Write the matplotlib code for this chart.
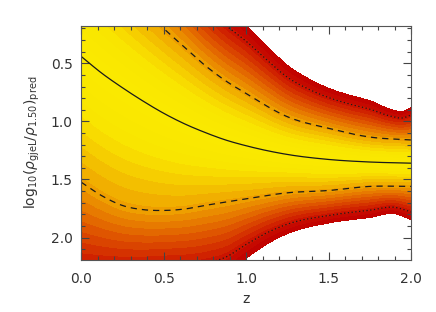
import numpy as np
import matplotlib
matplotlib.use('Agg')
import matplotlib.pyplot as plt
from matplotlib.colors import LinearSegmentedColormap, ListedColormap
from matplotlib.ticker import MultipleLocator

# curves (z, log10 value); points outside the axes are estimates
z_mean = [0.0, 0.125, 0.25, 0.375, 0.5, 0.625, 0.75, 0.875, 1.0, 1.25, 1.5, 1.75, 2.0]
y_mean = [0.44, 0.585, 0.71, 0.825, 0.93, 1.02, 1.095, 1.16, 1.21, 1.285, 1.328, 1.35, 1.36]

z_up1 = [0.0, 0.25, 0.5, 0.625, 0.75, 0.875, 1.0, 1.25, 1.5, 1.75, 2.0]
y_up1 = [-0.55, -0.15, 0.2, 0.36, 0.517, 0.65, 0.76, 0.96, 1.06, 1.135, 1.16]

z_lo1 = [0.0, 0.125, 0.25, 0.375, 0.5, 0.625, 0.75, 1.0, 1.25, 1.5, 1.75, 2.0]
y_lo1 = [1.523, 1.64, 1.724, 1.76, 1.767, 1.755, 1.724, 1.667, 1.615, 1.595, 1.56, 1.56]

z_up2 = [0.0, 0.25, 0.5, 0.75, 0.875, 1.0, 1.125, 1.25, 1.375, 1.5, 1.625, 1.75, 1.875, 1.95, 2.0]
y_up2 = [-1.5, -0.95, -0.45, 0.0, 0.17, 0.31, 0.47, 0.62, 0.72, 0.795, 0.85, 0.895, 0.955, 0.97, 0.945]

z_lo2 = [0.0, 0.25, 0.5, 0.75, 0.875, 1.0, 1.125, 1.25, 1.5, 1.75, 1.9, 2.0]
y_lo2 = [2.28, 2.27, 2.25, 2.22, 2.17, 2.06, 1.96, 1.885, 1.81, 1.765, 1.74, 1.78]


def smooth(xs, ys, xn):
    # cubic hermite through the read points
    xs = np.asarray(xs, float)
    ys = np.asarray(ys, float)
    d = np.gradient(ys, xs)
    i = np.clip(np.searchsorted(xs, xn) - 1, 0, len(xs) - 2)
    h = xs[i + 1] - xs[i]
    t = (xn - xs[i]) / h
    h00 = 2 * t**3 - 3 * t**2 + 1
    h10 = t**3 - 2 * t**2 + t
    h01 = -2 * t**3 + 3 * t**2
    h11 = t**3 - t**2
    return h00 * ys[i] + h10 * h * d[i] + h01 * ys[i + 1] + h11 * h * d[i + 1]


zz = np.linspace(0, 2, 500)
m = smooth(z_mean, y_mean, zz)
u1 = smooth(z_up1, y_up1, zz)
l1 = smooth(z_lo1, y_lo1, zz)
u2 = smooth(z_up2, y_up2, zz)
l2 = smooth(z_lo2, y_lo2, zz)

yy = np.linspace(0.1, 2.3, 700)
Z, Y = np.meshgrid(zz, yy)
M, U1, L1, U2, L2 = [np.broadcast_to(a, Z.shape) for a in (m, u1, l1, u2, l2)]

# distance from the mean in "sigma" units, piecewise between the curves
nsig = np.where(
    Y < M,
    np.where(Y >= U1, (M - Y) / (M - U1), 1 + (U1 - Y) / (U1 - U2)),
    np.where(Y <= L1, (Y - M) / (L1 - M), 1 + (Y - L1) / (L2 - L1)),
)

levels = np.linspace(0, 2.3, 20)
base = LinearSegmentedColormap.from_list('yr', [
    (0.0, (250/255, 234/255, 0)),
    (0.18, (249/255, 230/255, 0)),
    (0.27, (247/255, 212/255, 0)),
    (0.43, (239/255, 165/255, 0)),
    (0.62, (226/255, 98/255, 0)),
    (0.8, (210/255, 38/255, 0)),
    (0.9, (200/255, 12/255, 0)),
    (1.0, (192/255, 0, 0)),
])
mids = (levels[:-1] + levels[1:]) / 2 / levels[-1]
cmap = ListedColormap(base(mids))

fig = plt.figure(figsize=(4.36, 3.12), dpi=100)
ax = fig.add_axes([0.186, 0.168, 0.757, 0.749])
ax.contourf(Z, Y, nsig, levels=levels, cmap=cmap, antialiased=False)

ax.plot(zz, m, color='#1a1a1a', lw=0.9)
ax.plot(zz, u1, color='#1a1a1a', lw=0.9, ls=(0, (5, 4)))
ax.plot(zz, l1, color='#1a1a1a', lw=0.9, ls=(0, (5, 4)))
ax.plot(zz, u2, color='#1a1a1a', lw=0.9, ls=(0, (1, 2)))
ax.plot(zz, l2, color='#1a1a1a', lw=0.9, ls=(0, (1, 2)))

ax.set_xlim(0, 2.0)
ax.set_ylim(2.19, 0.178)
ax.xaxis.set_major_locator(MultipleLocator(0.5))
ax.xaxis.set_minor_locator(MultipleLocator(0.1))
ax.yaxis.set_major_locator(MultipleLocator(0.5))
ax.yaxis.set_minor_locator(MultipleLocator(0.1))
ax.tick_params(which='both', direction='in', top=True, right=True, color='#444', width=0.8)
ax.tick_params(which='major', length=6)
ax.tick_params(which='minor', length=3)
ax.tick_params(axis='x', pad=9, labelsize=10, labelcolor='#333')
ax.tick_params(axis='y', pad=6, labelsize=10, labelcolor='#333')
ax.xaxis.set_major_formatter(plt.FormatStrFormatter('%.1f'))
ax.yaxis.set_major_formatter(plt.FormatStrFormatter('%.1f'))
for s in ax.spines.values():
    s.set_color('#555')
    s.set_linewidth(0.8)

ax.set_xlabel('z', fontsize=10, color='#333', labelpad=4)
ax.set_ylabel(r'log$_{10}$($\rho_{\rm gjeL}/\rho_{\rm 1.50}$)$_{\rm pred}$', fontsize=10, color='#333', labelpad=6)

fig.savefig('out.png', dpi=100)
